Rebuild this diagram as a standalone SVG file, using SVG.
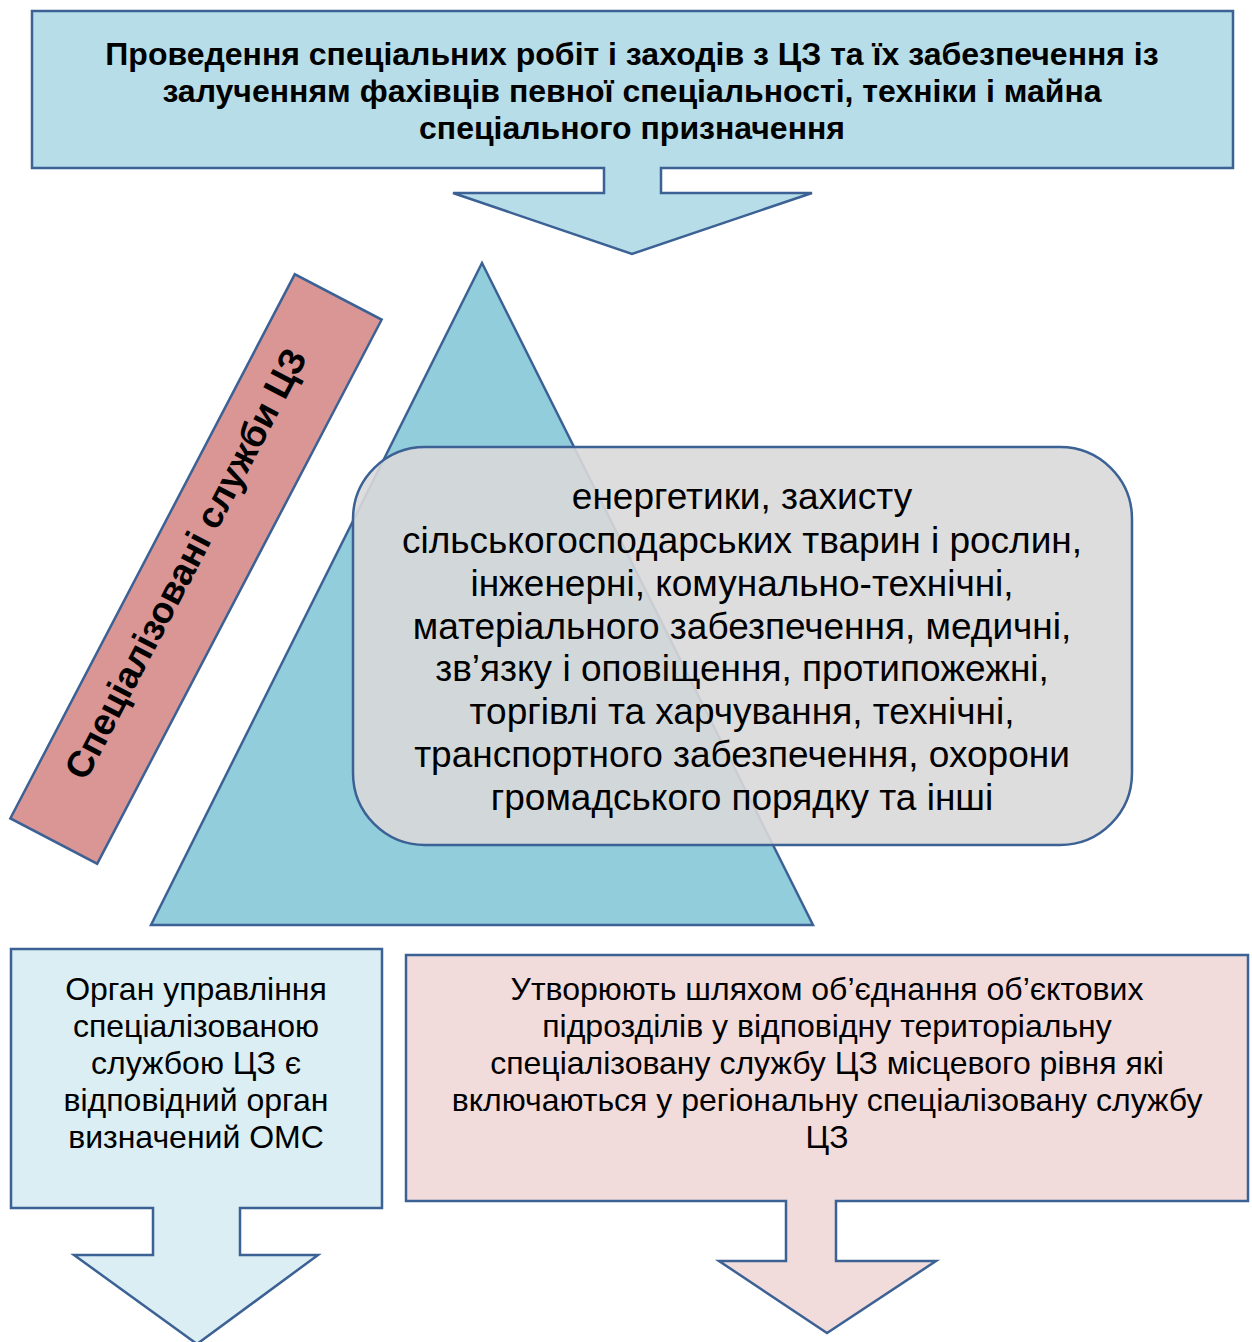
<svg xmlns="http://www.w3.org/2000/svg" width="1252" height="1342" viewBox="0 0 1252 1342">
<style>
.sh{stroke:#3b6195;stroke-width:2.5;stroke-linejoin:miter}
.t{font-family:"Liberation Sans",Arial,sans-serif;fill:#000;text-anchor:middle}
.b{font-weight:bold}
</style>
<rect width="1252" height="1342" fill="#fff"/>
<g id="top">
<path class="sh" fill="#b7dde8" d="M32,11 H1233 V168 H661 V193 H812 L632,254 L453,193 H604 V168 H32 Z"/>
<text class="t b" font-size="32"><tspan x="632" y="65">Проведення спеціальних робіт і заходів з ЦЗ та їх забезпечення із</tspan><tspan x="632" y="102">залученням фахівців певної спеціальності, техніки і майна</tspan><tspan x="632" y="139">спеціального призначення</tspan></text>
</g>
<g id="triangle">
<path class="sh" fill="#92cddc" d="M482,263 L813,925 H151 Z"/>
</g>
<g id="label">
<g transform="translate(196,569) rotate(-62.4)">
<rect class="sh" fill="#d99694" x="-307" y="-49" width="614" height="98"/>
<text class="t b" font-size="37" x="0" y="1">Спеціалізовані служби ЦЗ</text>
</g>
</g>
<g id="services">
<rect class="sh" fill="#d9d9d9" fill-opacity="0.9" x="353" y="447" width="779" height="398" rx="72" ry="72"/>
<text class="t" font-size="37"><tspan x="742" y="509">енергетики, захисту</tspan><tspan x="742" y="553">сільськогосподарських тварин і рослин,</tspan><tspan x="742" y="596">інженерні, комунально-технічні,</tspan><tspan x="742" y="639">матеріального забезпечення, медичні,</tspan><tspan x="742" y="681">зв’язку і оповіщення, протипожежні,</tspan><tspan x="742" y="724">торгівлі та харчування, технічні,</tspan><tspan x="742" y="767">транспортного забезпечення, охорони</tspan><tspan x="742" y="810">громадського порядку та інші</tspan></text>
</g>
<g id="organ">
<path class="sh" fill="#daeef3" d="M11,949 H382 V1208 H240 V1255 H318 L197,1344 L74,1255 H153 V1208 H11 Z"/>
<text class="t" font-size="32"><tspan x="196" y="1000">Орган управління</tspan><tspan x="196" y="1037">спеціалізованою</tspan><tspan x="196" y="1074">службою ЦЗ є</tspan><tspan x="196" y="1111">відповідний орган</tspan><tspan x="196" y="1148">визначений ОМС</tspan></text>
</g>
<g id="form">
<path class="sh" fill="#f2dcdb" d="M406,955 H1248 V1201 H836 V1261 H936 L827,1333 L719,1261 H786 V1201 H406 Z"/>
<text class="t" font-size="32"><tspan x="827" y="1000">Утворюють шляхом об’єднання об’єктових</tspan><tspan x="827" y="1037">підрозділів у відповідну територіальну</tspan><tspan x="827" y="1074">спеціалізовану службу ЦЗ місцевого рівня які</tspan><tspan x="827" y="1111">включаються у регіональну спеціалізовану службу</tspan><tspan x="827" y="1148">ЦЗ</tspan></text>
</g>
<g id="connectors"></g>
</svg>
